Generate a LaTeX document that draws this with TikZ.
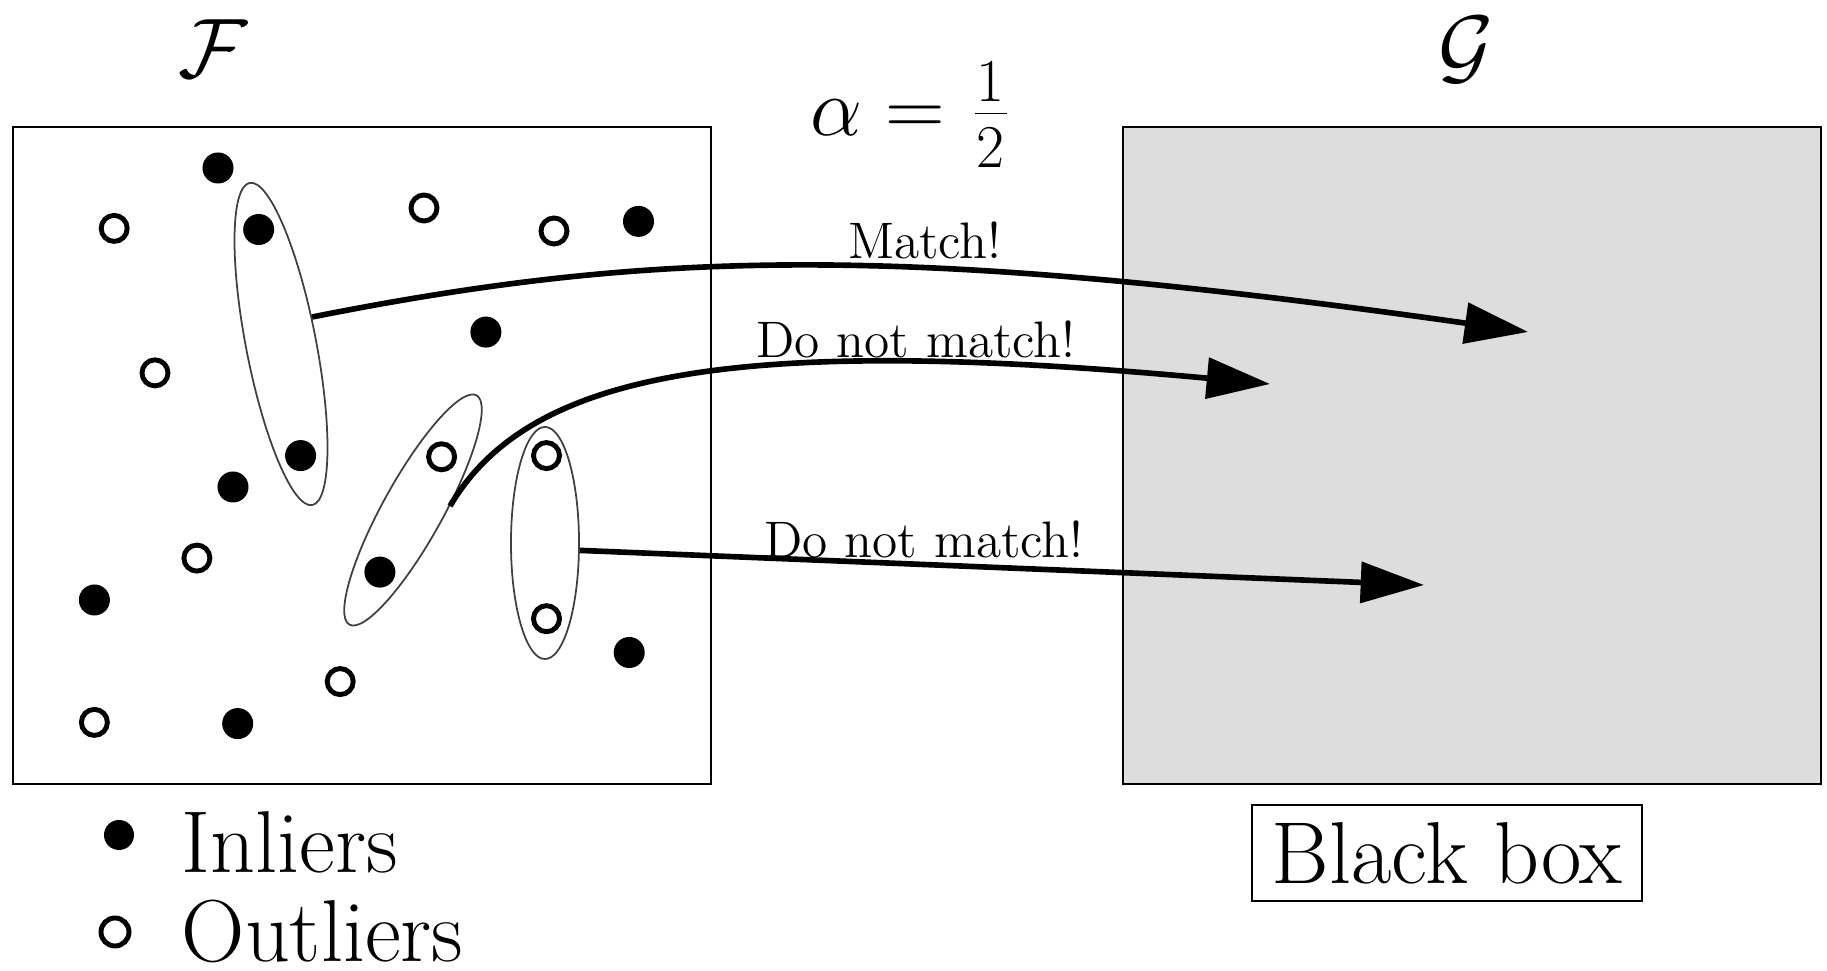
\RequirePackage{fix-cm}
\documentclass[tikz,border=0pt]{standalone}
\usepackage{fontspec}
\usetikzlibrary{arrows.meta,shapes.geometric}
\definecolor{bbgray}{RGB}{221,221,221}
\newcommand\halffrac{\vcenter{\hbox{\fontsize{17.3}{20}\selectfont\vbox{\hbox to 9.1pt{\hss 1\hss}\kern3.2pt\hrule height 0.45pt\kern3.7pt\hbox to 9.1pt{\hss 2\hss}}}}}
\tikzset{
  inl/.style={circle,fill=black,inner sep=0pt,minimum size=0.31cm},
  outl/.style={circle,draw=black,fill=white,line width=1.4pt,inner sep=0pt,minimum size=0.26cm},
  grp/.style={ellipse,draw=black!75,line width=0.5pt,inner sep=0pt},
  frame/.style={draw=black,line width=0.6pt},
  conn/.style={line width=1.6pt,-{Triangle[length=18pt,width=11.5pt]}},
  lbl/.style={font=\fontsize{14.6}{17}\selectfont,inner sep=0pt},
  big/.style={font=\fontsize{25}{29}\selectfont,inner sep=0pt}
}
\begin{document}
\begin{tikzpicture}[x=0.01cm,y=-0.01cm]
\useasboundingbox (0,0) rectangle (1827,971);
% boxes
\draw[frame] (13,127) rectangle (711,784);
\draw[frame,fill=bbgray] (1123,127) rectangle (1821,784);
\node[inner sep=0pt,font=\fontsize{24}{28}\selectfont] (Flab) at (213,49) {$\mathcal{F}$};
\node[inner sep=0pt,font=\fontsize{24}{28}\selectfont] (Glab) at (1466,50) {$\mathcal{G}$};
\node[inner sep=0pt,font=\fontsize{23.5}{28}\selectfont] (alpha) at (908.5,114.5) {$\alpha=\kern2pt\halffrac$};
% inliers
\node[inl] (i1) at (218,168) {};
\node[inl] (i2) at (258.7,229.5) {};
\node[inl] (i3) at (485.9,332.1) {};
\node[inl] (i4) at (300.6,455.6) {};
\node[inl] (i5) at (233,487) {};
\node[inl] (i6) at (94.4,600) {};
\node[inl] (i7) at (379.9,572.1) {};
\node[inl] (i8) at (629.2,652.5) {};
\node[inl] (i9) at (237.7,723.6) {};
\node[inl] (i10) at (638.5,221.4) {};
% outliers
\node[outl] (o1) at (114.2,228.4) {};
\node[outl] (o2) at (424,208) {};
\node[outl] (o3) at (554,231) {};
\node[outl] (o4) at (155,372.9) {};
\node[outl] (o5) at (441.6,456.8) {};
\node[outl] (o6) at (546.5,455.6) {};
\node[outl] (o7) at (196.9,558.1) {};
\node[outl] (o8) at (546.5,618.7) {};
\node[outl] (o9) at (340.2,681.6) {};
\node[outl] (o10) at (94.4,722.4) {};
% groups
\node[grp,minimum width=0.70cm,minimum height=3.28cm,rotate=11] (e1) at (281,344) {};
\node[grp,minimum width=2.62cm,minimum height=0.60cm,rotate=61] (e2) at (413,510) {};
\node[grp,minimum width=0.68cm,minimum height=2.32cm] (e3) at (545,543) {};
% targets
\coordinate (t1) at (1528,332);
\coordinate (t2) at (1270,384);
\coordinate (t3) at (1424,585);
% connectors
\draw[conn] (e1.30) .. controls (650,250) and (900,243) .. (t1);
\draw[conn] (e2.-55) .. controls (530,370) and (740,335) .. (t2);
\draw[conn] (e3.-12) -- (t3);
% labels
\node[lbl] (m1) at (925,240) {Match!};
\node[lbl] (m2) at (916,339) {Do not match!};
\node[lbl] (m3) at (924,539) {Do not match!};
% black box
\node[big,draw=black,line width=0.6pt,inner xsep=5.6pt,inner ysep=4.8pt] (bb) at (1447,853) {Black box};
% legend
\node[inl,minimum size=0.30cm] (li) at (119,835) {};
\node[big,anchor=base west] (lit) at (181,873) {Inliers};
\node[outl,minimum size=0.28cm] (lo) at (115,932) {};
\node[big,anchor=base west] (lot) at (181,962) {Outliers};
\end{tikzpicture}
\end{document}
